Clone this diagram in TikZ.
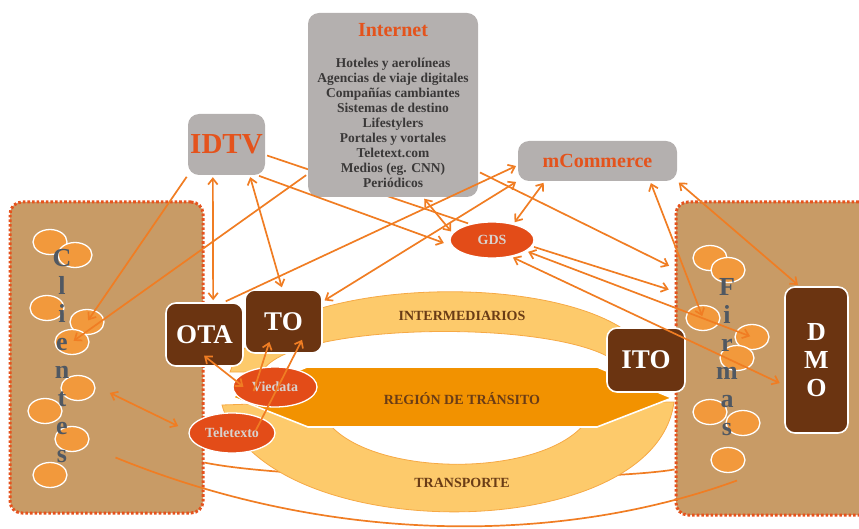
\documentclass[tikz,border=0pt]{standalone}
\usepackage{fontspec}
\setmainfont{Liberation Serif}
\usetikzlibrary{arrows.meta,calc,shapes.geometric}

\definecolor{linkor}{HTML}{F07D23}
\definecolor{boxgray}{HTML}{B4B0AF}
\definecolor{titleor}{HTML}{E4531C}
\definecolor{darkbrown}{HTML}{6B3411}
\definecolor{zonetan}{HTML}{C89B66}
\definecolor{dotred}{HTML}{E6521D}
\definecolor{blobor}{HTML}{F2993C}
\definecolor{redell}{HTML}{E34C18}
\definecolor{elltext}{HTML}{D8D2CE}
\definecolor{bandlight}{HTML}{FDCA6B}
\definecolor{bandedge}{HTML}{F6A945}
\definecolor{transit}{HTML}{F29200}
\definecolor{bandtext}{HTML}{6A3C16}
\definecolor{lettergray}{HTML}{505862}
\definecolor{listtext}{HTML}{3A3838}

\begin{document}
\begin{tikzpicture}[x=1pt, y=-1pt, every node/.style={align=center, inner sep=0pt},
    zone/.style={draw=dotred, fill=zonetan, line width=3pt, dash pattern=on 2.6pt off 2pt, rounded corners=12pt},
    blob/.style={ellipse, draw=white, fill=blobor, line width=1.3pt, minimum width=34pt, minimum height=25pt},
    media/.style={fill=boxgray, rounded corners=11pt},
    agent/.style={draw=white, fill=darkbrown, line width=1.6pt, rounded corners=10pt, text=white, font=\fontsize{27}{28}\selectfont\bfseries},
    channel/.style={ellipse, draw=white, fill=redell, line width=1.3pt, text=elltext, font=\fontsize{14}{16}\selectfont\bfseries},
    bandlabel/.style={text=bandtext, font=\fontsize{14}{16}\selectfont\bfseries},
    word/.style={text=lettergray, font=\fontsize{26}{28.1}\selectfont\bfseries},
    link/.style={draw=linkor, line width=1.7pt, shorten <=2pt, shorten >=2pt},
    >={Straight Barb[length=6pt,width=9.5pt]}]
    \useasboundingbox (0,0) rectangle (859,529);
    \clip (0,0) rectangle (859,529);

    % the two sides
    \node[zone, minimum width=193pt, minimum height=311pt] (clients) at (106.5,357.5) {};
    \node[zone, minimum width=204pt, minimum height=313pt] (firms) at (778,358.5) {};
    \foreach \x/\y [count=\i] in {50/242, 75/255, 47/308, 87/322, 72/342, 78/388, 45/411, 72/439, 50/475}
        \node[blob] (c\i) at (\x,\y) {};
    \foreach \x/\y [count=\i] in {710/258, 728/270, 703/318, 752/337, 737/358, 710/412, 743/423, 728/460}
        \node[blob] (f\i) at (\x,\y) {};

    \draw[linkor, line width=1.7pt] (clients.-47.8) .. controls (300,482) and (600,482) .. (firms.227);
    \draw[linkor, line width=1.7pt] ($(clients.center)+(9,100)$) .. controls (330,545) and (560,545) .. ($(firms.center)+(-41,122)$);

    % bands and transit region
    \filldraw[fill=bandlight, draw=bandedge, line width=0.8pt] (230,372) .. controls (265,265) and (640,265) .. (655,372) -- (625,372) .. controls (600,318) and (290,318) .. (262,372) -- cycle;
    \filldraw[fill=bandlight, draw=bandedge, line width=0.8pt] (222,405) .. controls (262,548) and (655,548) .. (674,402) -- (595,402) .. controls (580,485) and (335,485) .. (318,402) -- cycle;
    \filldraw[fill=transit, draw=white, line width=1.6pt] (307,367) -- (597,367) -- (672,398) -- (597,427) -- (308,427) -- (232,397) -- cycle;
    \node[bandlabel] (intermed) at (462,316) {INTERMEDIARIOS};
    \node[bandlabel] (region) at (462,399) {REGIÓN DE TRÁNSITO};
    \node[bandlabel] (transport) at (462,483) {TRANSPORTE};

    \node[word] (clientsword) at (62,356) {C\\l\\i\\e\\n\\t\\e\\s};
    \node[word, font=\fontsize{26}{28}\selectfont\bfseries] (firmsword) at (727,357.5) {F\\i\\r\\m\\a\\s};

    % media
    \node[media, minimum width=77pt, minimum height=61pt, text=titleor, font=\fontsize{29}{30}\selectfont\bfseries] (idtv) at (226.5,144.5) {IDTV};
    \node[channel, minimum width=84pt, minimum height=36pt] (gds) at (492,240) {GDS};
    \draw[link] (idtv.-15) -- (gds.144);
    \node[media, minimum width=170pt, minimum height=184pt] (net) at (393,105) {};
    \node[text=titleor, font=\fontsize{20}{22}\selectfont\bfseries] (nettitle) at (393,30) {Internet};
    \node[text=listtext, font=\fontsize{13.5}{15}\selectfont\bfseries] (netlist) at (393,123)
        {Hoteles y aerolíneas\\Agencias de viaje digitales\\Compañías cambiantes\\Sistemas de destino\\Lifestylers\\Portales y vortales\\Teletext.com\\Medios (eg. CNN)\\Periódicos};
    \node[media, minimum width=159pt, minimum height=40pt, text=titleor, font=\fontsize{20}{22}\selectfont\bfseries] (mcom) at (597.5,161) {mCommerce};

    % intermediaries
    \node[agent, minimum width=77pt, minimum height=63pt] (ota) at (204.5,334.5) {OTA};
    \node[agent, minimum width=77pt, minimum height=63pt] (tour) at (283.5,321.5) {TO};
    \node[agent, minimum width=78pt, minimum height=64pt] (ito) at (646,360) {ITO};
    \node[agent, minimum width=63pt, minimum height=146pt, font=\fontsize{26}{28}\selectfont\bfseries] (dmo) at (816.5,360) {D\\M\\O};
    \node[channel, minimum width=84pt, minimum height=40pt] (viedata) at (275,387) {Viedata};
    \node[channel, minimum width=86pt, minimum height=40pt] (teletext) at (232,433) {Teletexto};

    % links
    \draw[link, ->] (idtv.south west) -- (c4.center);
    \draw[link, <->] (idtv.246) -- (ota.75);
    \draw[link, <->] (idtv.-53.6) -- (tour.92.7);
    \draw[link, ->, shorten >=8pt] (idtv.-45) -- (gds.188);
    \draw[link, <->] (net.-72) -- (gds.170);
    \draw[link, ->] (net.219.5) -- (c5.center);
    \draw[link, ->] (ota.59.6) -- (mcom.183);
    \draw[link, <->] (tour.27) -- (mcom.194);
    \draw[link, ->, shorten >=6pt] (net.-38.7) -- (firms.139.7);
    \draw[link, <->] (mcom.201.6) -- (gds.37);
    \draw[link, ->, shorten >=6pt] (gds.-9) -- (firms.147.3);
    \draw[link, <->] (gds.-18) -- (f4.center);
    \draw[link, <->, shorten >=5pt] (gds.-41) -- (dmo.218.4);
    \draw[link, <->] (mcom.-21) -- (f3.center);
    \draw[link, <->] (mcom.south east) -- (dmo.103);
    \draw[link, <->] ($(ota.center)+(-2,20)$) -- ($(viedata.center)+(-30,1)$);
    \draw[link, ->] ($(viedata.center)+(-22,6)$) -- ($(tour.center)+(-13.5,18.5)$);
    \draw[link, ->] ($(teletext.center)+(23,-1)$) -- ($(tour.center)+(19.5,16.5)$);
    \draw[link, <->] ($(clients.center)+(1.5,34.5)$) -- ($(teletext.center)+(-52,-6)$);
\end{tikzpicture}
\end{document}
